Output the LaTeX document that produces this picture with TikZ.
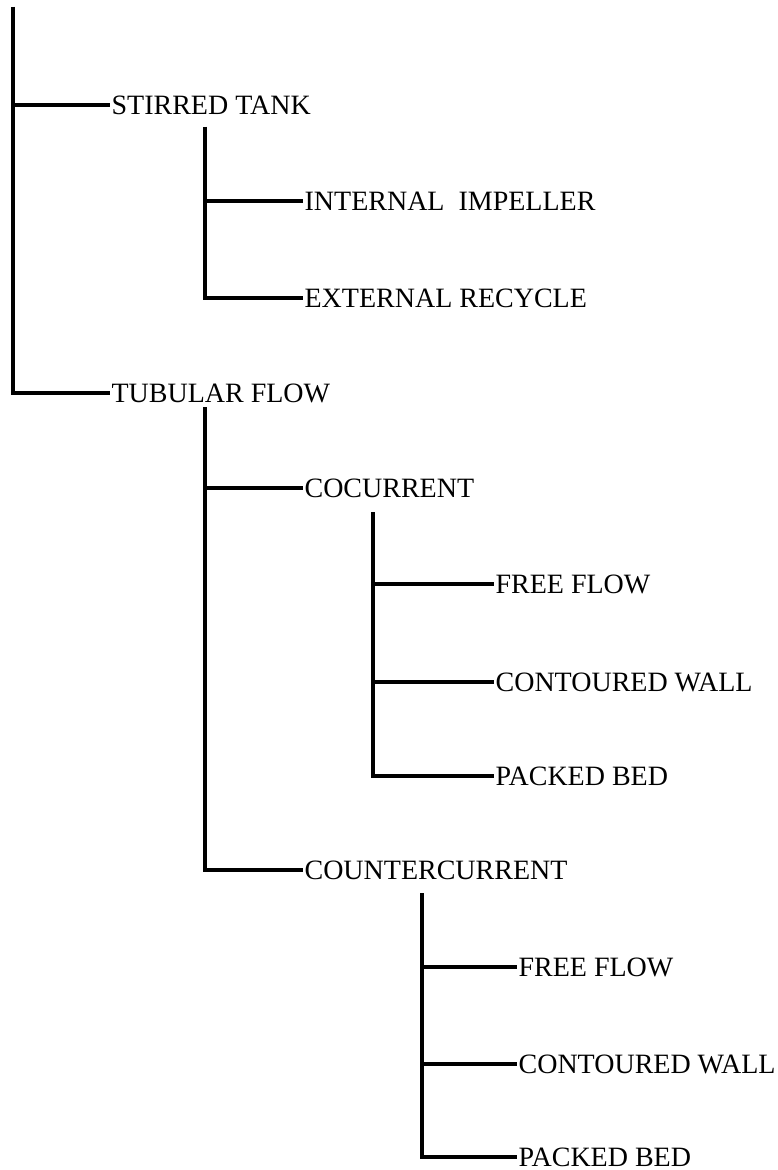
\documentclass[tikz,border=0pt]{standalone}
\usepackage{fontspec}
\setmainfont{Liberation Serif}
\usetikzlibrary{positioning}

\begin{document}
\begin{tikzpicture}[x=.5pt,y=-.5pt,line width=1.6pt,
  lbl/.style={anchor=west,inner sep=0pt,text height=9.2pt,text depth=0pt,font=\fontsize{14}{16}\selectfont}]
\useasboundingbox (0,0) rectangle (777,1170);
% first level
\coordinate (root) at (13,7);
\node[lbl] (stirred) at (110,105) {STIRRED TANK};
\node[lbl] (tubular) at (110,393) {TUBULAR FLOW};
\foreach \n in {stirred,tubular} {\draw (root) |- (\n.west);}
% stirred tank
\coordinate (sttop) at (205,127);
\node[lbl] (internal) at (303,201) {INTERNAL\ \ IMPELLER};
\node[lbl] (external) at (303,298) {EXTERNAL RECYCLE};
\foreach \n in {internal,external} {\draw (sttop) |- (\n.west);}
% tubular flow
\coordinate (tftop) at (205,407);
\node[lbl] (cocur) at (303,488) {COCURRENT};
\node[lbl] (countercur) at (303,870) {COUNTERCURRENT};
\foreach \n in {cocur,countercur} {\draw (tftop) |- (\n.west);}
% cocurrent
\coordinate (cotop) at (373,512);
\node[lbl] (cofree) at (494,584) {FREE FLOW};
\node[lbl] (cowall) at (494,682) {CONTOURED WALL};
\node[lbl] (cobed) at (494,776) {PACKED BED};
\foreach \n in {cofree,cowall,cobed} {\draw (cotop) |- (\n.west);}
% countercurrent
\coordinate (cctop) at (422,893);
\node[lbl] (ccfree) at (517,967) {FREE FLOW};
\node[lbl] (ccwall) at (517,1064) {CONTOURED WALL};
\node[lbl] (ccbed) at (517,1157) {PACKED BED};
\foreach \n in {ccfree,ccwall,ccbed} {\draw (cctop) |- (\n.west);}
\end{tikzpicture}
\end{document}
